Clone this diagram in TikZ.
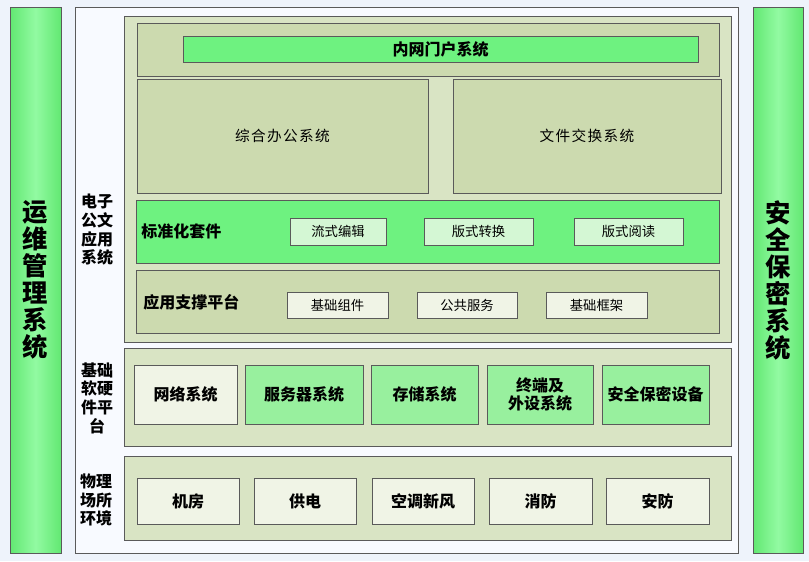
\documentclass[tikz,border=0pt]{standalone}
\usepackage{fontspec}
\setmainfont{Noto Sans CJK SC}
\usepackage{tikz}
\usepackage{color}
\definecolor{bgblue}{RGB}{238,243,251}
\definecolor{barmid}{RGB}{146,250,162}
\definecolor{baredge}{RGB}{98,232,114}
\definecolor{panelwhite}{RGB}{248,250,255}
\definecolor{layerolive}{RGB}{217,228,196}
\definecolor{rowolive}{RGB}{204,218,175}
\definecolor{suitegreen}{RGB}{110,242,128}
\definecolor{toolgreen}{RGB}{212,247,212}
\definecolor{palebox}{RGB}{240,244,230}
\definecolor{devgreen}{RGB}{152,240,158}
\definecolor{edgegray}{RGB}{90,90,90}
\tikzset{
  span/.style n args={4}{anchor=north west, at={(#1,#2)},
    minimum width={(#3-#1)*0.75pt}, minimum height={(#4-#2)*0.75pt}},
  box/.style={draw=edgegray, line width=0.7pt, inner sep=0pt, outer sep=0pt, align=center},
  bar/.style={box, left color=baredge, right color=baredge, middle color=barmid,
    font=\fontsize{19}{20.25}\selectfont\bfseries},
  sidelabel/.style={align=center, inner sep=0pt, font=\fontsize{12}{14}\selectfont\bfseries},
  rowlabel/.style={anchor=west, inner sep=0pt, font=\fontsize{12}{14}\selectfont\bfseries},
  small/.style={font=\fontsize{10}{12}\selectfont},
  big/.style={font=\fontsize{12}{14}\selectfont\bfseries},
  wide/.style={font=\fontsize{11}{13}\selectfont}
}
\newcommand{\gap}{\hspace{1pt}}
\begin{document}
\begin{tikzpicture}[x=0.75pt,y=-0.75pt]
		\useasboundingbox[fill=bgblue] (0,0) rectangle (809,561);
		% side bars
		\node[bar, span={10}{7}{61}{553}] (ops) {运\\维\\管\\理\\系\\统};
		\node[bar, span={753}{7}{803}{553}] (sec) {安\\全\\保\\密\\系\\统};
		\node[box, fill=panelwhite, span={75}{7}{738}{553}] (panel) {};
		% e-document layer
		\node[box, fill=layerolive, span={124}{16}{731}{342}] (eapp) {};
		\node[box, fill=rowolive, span={137}{23}{719}{76}] (portalrow) {};
		\node[box, fill=suitegreen, big, span={183}{36}{698}{62}] (portal) {内网门户系统};
		\node[box, fill=rowolive, wide, span={137}{79}{428}{193}] (office) {综\gap 合\gap 办\gap 公\gap 系\gap 统};
		\node[box, fill=rowolive, wide, span={453}{79}{721}{193}] (exchange) {文\gap 件\gap 交\gap 换\gap 系\gap 统};
		\node[box, fill=suitegreen, span={136}{200}{719}{263}] (suite) {};
		\node[rowlabel] (suitelabel) at (141,231) {标准化套件};
		\foreach \l/\r/\t [count=\i] in {290/386/流式编辑, 424/533/版式转换, 574/683/版式阅读}{
			\node[box, fill=toolgreen, small, span={\l}{218}{\r}{245}] (tool\i) {\t};
		}
		\node[box, fill=rowolive, span={136}{270}{719}{333}] (support) {};
		\node[rowlabel] (supportlabel) at (143,302) {应用支撑平台};
		\foreach \l/\r/\t [count=\i] in {287/388/基础组件, 417/517/公共服务, 546/647/基础框架}{
			\node[box, fill=palebox, small, span={\l}{292}{\r}{318}] (comp\i) {\t};
		}
		\node[sidelabel] (eapplabel) at (97,230) {电子\\公文\\应用\\系统};
		% hardware layer
		\node[box, fill=layerolive, span={124}{348}{731}{446}] (platform) {};
		\foreach \l/\r/\c/\t [count=\i] in {134/237/palebox/网络系统, 245/363/devgreen/服务器系统,
			371/478/devgreen/存储系统, 487/593/devgreen/终端及\\外设系统, 602/709/devgreen/安全保密设备}{
			\node[box, fill=\c, big, span={\l}{365}{\r}{424}] (dev\i) {\t};
		}
		\node[sidelabel] (platformlabel) at (97,398) {基础\\软硬\\件平\\台};
		% site layer
		\node[box, fill=layerolive, span={124}{456}{731}{540}] (site) {};
		\foreach \l/\r/\t [count=\i] in {137/239/机房, 254/356/供电, 372/474/空调新风, 489/592/消防, 606/709/安防}{
			\node[box, fill=palebox, big, span={\l}{478}{\r}{524}] (room\i) {\t};
		}
		\node[sidelabel] (sitelabel) at (96,500) {物理\\场所\\环境};
		\end{tikzpicture}
\end{document}
